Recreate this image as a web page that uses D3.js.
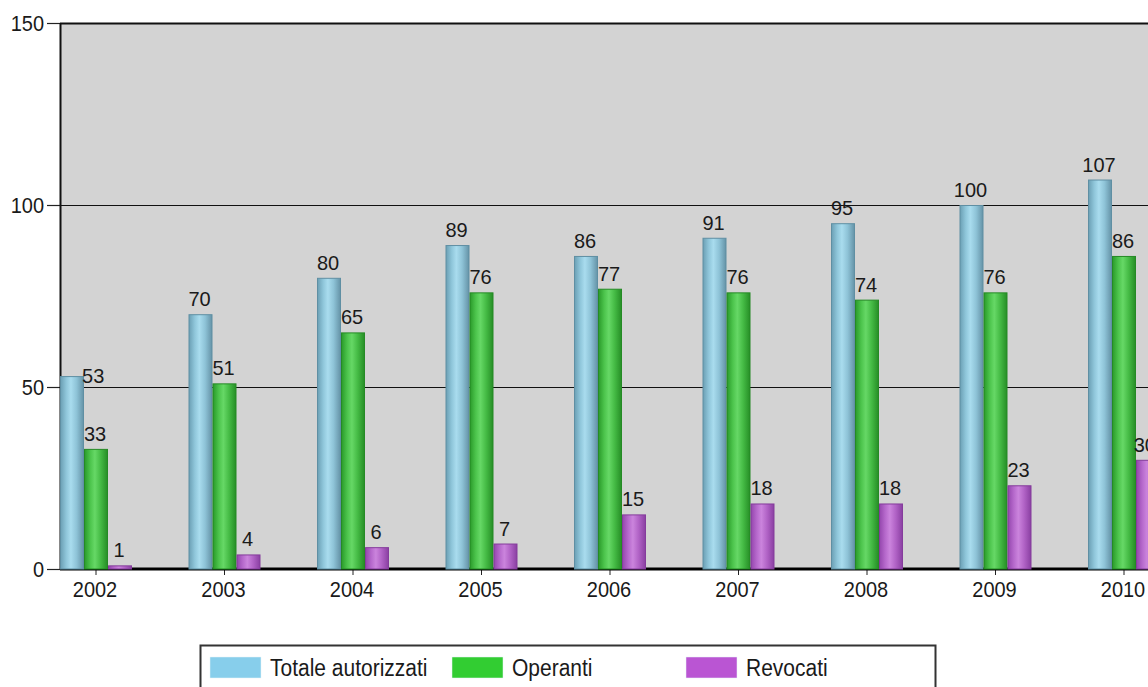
<!DOCTYPE html>
<html>
<head>
<meta charset="utf-8">
<script src="https://cdn.jsdelivr.net/npm/d3@7"></script>
<style>
  html, body { margin: 0; padding: 0; background: #ffffff; }
  svg { display: block; }
  text { font-family: "Liberation Sans", Arial, sans-serif; fill: #1a1a1a; }
</style>
</head>
<body>
<svg id="chart" width="1148" height="687"></svg>
<script>
// ---- data ----
const years = ["2002", "2003", "2004", "2005", "2006", "2007", "2008", "2009", "2010"];
const totale = [53, 70, 80, 89, 86, 91, 95, 100, 107];
const operanti = [33, 51, 65, 76, 77, 76, 74, 76, 86];
const revocati = [1, 4, 6, 7, 15, 18, 18, 23, 30];
const seriesNames = ["Totale autorizzati", "Operanti", "Revocati"];
const yTicks = [0, 50, 100, 150];

// ---- layout / style ----
const W = 1148, H = 687;
const plotLeft = 60, plotTop = 23, plotBottom = 569, plotRight = 1200;
const step = 128.5, firstCenter = 96;
const groupWidth = 72;

const svg = d3.select("#chart");

const x = d3.scaleBand()
  .domain(years)
  .range([firstCenter - step / 2, firstCenter - step / 2 + step * years.length])
  .padding(0);
const xInner = d3.scaleBand().domain([0, 1, 2]).range([0, groupWidth]).padding(0);
const y = d3.scaleLinear().domain([0, 150]).range([plotBottom, plotTop]);

const seriesData = [totale, operanti, revocati];
const legendColors = ["#87ceeb", "#32cd32", "#ba55d3"];
const grads = [
  { id: "gBlue", stops: ["#6b9fb4", "#8fc6da", "#a9dcee", "#8ec3d7", "#6593a7"], stroke: "#5f8fa3" },
  { id: "gGreen", stops: ["#2a9a2a", "#4cc44c", "#66d866", "#45bb45", "#268e26"], stroke: "#258a25" },
  { id: "gPurple", stops: ["#9446ad", "#b669cc", "#cb84dd", "#b163c6", "#8a3fa2"], stroke: "#853c9c" }
];

const defs = svg.append("defs");
grads.forEach(g => {
  const lg = defs.append("linearGradient").attr("id", g.id)
    .attr("x1", "0%").attr("x2", "100%").attr("y1", "0%").attr("y2", "0%");
  const offs = [0, 0.25, 0.45, 0.7, 1];
  g.stops.forEach((c, i) => lg.append("stop").attr("offset", offs[i]).attr("stop-color", c));
});
defs.append("clipPath").attr("id", "clip")
  .append("rect").attr("x", 0).attr("y", 0).attr("width", W).attr("height", H);

// plot background
svg.append("rect")
  .attr("x", plotLeft).attr("y", plotTop)
  .attr("width", plotRight - plotLeft).attr("height", plotBottom - plotTop)
  .attr("fill", "#d3d3d3");

// gridlines
svg.append("g").selectAll("line").data(yTicks.filter(t => t > 0)).join("line")
  .attr("x1", plotLeft).attr("x2", plotRight)
  .attr("y1", d => Math.round(y(d)) + 0.5).attr("y2", d => Math.round(y(d)) + 0.5)
  .attr("stroke", "#111").attr("stroke-width", d => d === 150 ? 2 : 1);

// y axis
const yAxis = d3.axisLeft(y).tickValues(yTicks).tickSize(13).tickPadding(3);
const yG = svg.append("g").attr("transform", `translate(${plotLeft},0)`).call(yAxis);
yG.select(".domain").remove();
yG.selectAll(".tick line").attr("stroke", "#222").attr("stroke-width", 1.2);
yG.selectAll(".tick text")
  .attr("font-size", 20)
  .attr("fill", "#1a1a1a")
  .attr("dy", null)
  .attr("y", 0)
  .attr("transform", "translate(0,7) scale(1,1.12)");
svg.append("line")
  .attr("x1", plotLeft + 0.5).attr("x2", plotLeft + 0.5)
  .attr("y1", plotTop).attr("y2", plotBottom)
  .attr("stroke", "#111").attr("stroke-width", 2);

// x axis
const xAxis = d3.axisBottom(x).tickSize(6).tickPadding(4);
const xG = svg.append("g").attr("transform", `translate(0,${plotBottom})`).call(xAxis);
xG.select(".domain").remove();
xG.selectAll(".tick line").attr("stroke", "#222");
xG.selectAll(".tick text")
  .attr("font-size", 20).attr("fill", "#1a1a1a")
  .attr("dy", null).attr("y", 0)
  .attr("transform", "translate(-1,28) scale(1,1.12)");
svg.append("line")
  .attr("x1", plotLeft).attr("x2", plotRight)
  .attr("y1", plotBottom).attr("y2", plotBottom)
  .attr("stroke", "#000").attr("stroke-width", 3);

// bars
const bars = svg.append("g").attr("clip-path", "url(#clip)");
seriesData.forEach((vals, s) => {
  bars.selectAll(".bar" + s).data(vals).join("rect")
    .attr("class", "bar" + s)
    .attr("x", (d, i) => x(years[i]) + x.bandwidth() / 2 - groupWidth / 2 + xInner(s) + 0.5)
    .attr("y", d => y(d) + 0.5)
    .attr("width", xInner.bandwidth() - 1)
    .attr("height", d => plotBottom - y(d) - 0.5)
    .attr("fill", `url(#${grads[s].id})`)
    .attr("stroke", grads[s].stroke)
    .attr("stroke-width", 1);
});

// value labels
const labels = svg.append("g");
seriesData.forEach((vals, s) => {
  labels.selectAll(".lab" + s).data(vals).join("text")
    .attr("class", "lab" + s)
    .attr("font-size", 20)
    .attr("text-anchor", "middle")
    .each(function (d, i) {
      const left = x(years[i]) + x.bandwidth() / 2 - groupWidth / 2 + xInner(s);
      const cx = left + xInner.bandwidth() / 2;
      let tx = cx - 1, ty = y(d) - 8;
      const halfW = String(d).length * 5.6;
      if (cx - halfW < plotLeft + 4) {
        tx = left + xInner.bandwidth() + halfW - 2;
        ty = y(d) + 7;
      }
      if (tx + halfW > W) {
        tx = W - halfW + 8;
      }
      d3.select(this).attr("transform", `translate(${tx},${ty}) scale(1,1.04)`);
    })
    .text(d => d);
});

// legend
const lg = svg.append("g");
lg.append("rect")
  .attr("x", 200.5).attr("y", 645.5).attr("width", 735).attr("height", 60)
  .attr("fill", "#ffffff").attr("stroke", "#333").attr("stroke-width", 2);
const legendX = [210, 452, 686];
seriesNames.forEach((name, i) => {
  lg.append("rect")
    .attr("x", legendX[i]).attr("y", 657).attr("width", 51).attr("height", 21)
    .attr("fill", legendColors[i]).attr("stroke", "#e8f4f8").attr("stroke-width", 0.5);
  lg.append("text")
    .attr("font-size", 21)
    .attr("transform", `translate(${legendX[i] + 60},676) scale(1,1.12)`)
    .text(name);
});
</script>
</body>
</html>
